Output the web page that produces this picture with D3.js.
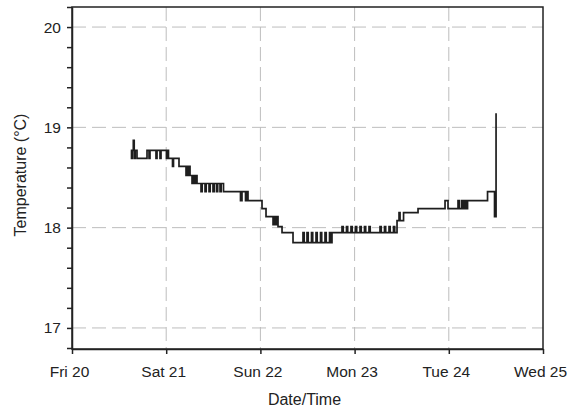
<!DOCTYPE html>
<html lang="en">
<head>
    <meta charset="UTF-8">
    <title>Temperature</title>
    <script src="https://cdnjs.cloudflare.com/ajax/libs/d3/7.8.5/d3.min.js"></script>
    <style>
        body { margin: 0; background: #fff; }
        svg text { font-family: "Liberation Sans", Arial, sans-serif; fill: #222; }
        .axis path, .axis line { stroke: #222; stroke-width: 1.5; }
        .grid line { stroke: #bdbdbd; stroke-width: 1; stroke-dasharray: 14,6; }
    </style>
</head>
<body>
<div id="chart"></div>
<script>
    // Readings: hours since Fri 20 00:00 and temperature (°C)
    const hours = [
        14.96, 15.16, 15.36, 15.62, 15.85, 16.10, 16.56, 19.11, 19.62, 19.87,
        21.40, 21.66, 22.42, 22.68, 24.07, 24.33, 24.58, 25.61, 25.86, 27.26,
        29.05, 29.30, 29.56, 29.81, 30.07, 30.58, 30.96, 31.34, 31.60, 31.85,
        32.87, 33.17, 33.89, 34.19, 34.91, 35.21, 35.92, 36.23, 36.82, 37.12,
        37.71, 38.01, 38.60, 42.93, 43.31, 44.21, 44.46, 44.84,
        48.41, 49.43, 51.22, 51.47, 51.85, 52.11, 52.49, 53.51, 56.31,
        58.85, 59.16, 59.87, 60.18, 61.02, 61.33, 62.17, 62.47, 63.32, 63.62,
        64.46, 64.77, 65.61, 65.92, 66.24,
        68.79, 69.10, 69.94, 70.24, 71.08, 71.39, 72.23, 72.53, 73.38, 73.68,
        74.52, 74.83, 75.67, 75.98,
        78.47, 78.78, 79.62, 79.92, 80.77, 81.07, 81.91, 82.22,
        82.81, 83.32, 83.58, 84.47, 88.16, 95.04, 95.80,
        98.35, 98.66, 99.25, 99.50, 99.76, 100.14, 100.34, 100.60, 100.78,
        105.87, 107.65, 108.04
    ];
    const temps = [
        18.77, 18.69, 18.77, 18.87, 18.69, 18.77, 18.69, 18.77, 18.69, 18.77,
        18.69, 18.77, 18.69, 18.77, 18.69, 18.77, 18.69, 18.61, 18.69, 18.61,
        18.52, 18.61, 18.52, 18.61, 18.52, 18.44, 18.52, 18.44, 18.52, 18.44,
        18.36, 18.44, 18.36, 18.44, 18.36, 18.44, 18.36, 18.44, 18.36, 18.44,
        18.36, 18.44, 18.36, 18.27, 18.36, 18.27, 18.36, 18.27,
        18.19, 18.11, 18.03, 18.11, 18.03, 18.11, 18.01, 17.95, 17.85,
        17.95, 17.85, 17.95, 17.85, 17.95, 17.85, 17.95, 17.85, 17.95, 17.85,
        17.95, 17.85, 17.95, 17.85, 17.95,
        18.01, 17.95, 18.01, 17.95, 18.01, 17.95, 18.01, 17.95, 18.01, 17.95,
        18.01, 17.95, 18.01, 17.95,
        18.01, 17.95, 18.01, 17.95, 18.01, 17.95, 18.01, 17.95,
        18.07, 18.15, 18.07, 18.15, 18.19, 18.27, 18.19,
        18.27, 18.19, 18.27, 18.19, 18.27, 18.19, 18.27, 18.19, 18.27,
        18.36, 18.11, 19.14
    ];

    const dayTicks = ["Fri 20", "Sat 21", "Sun 22", "Mon 23", "Tue 24", "Wed 25"];
    const yLabels = [17, 18, 19, 20];
    const yMinor = [16.8, 17, 17.2, 17.4, 17.6, 17.8, 18, 18.2, 18.4, 18.6, 18.8, 19, 19.2, 19.4, 19.6, 19.8, 20, 20.2];

    const start = new Date(2012, 0, 20);
    const data = hours.map((h, i) => ({ date: new Date(start.getTime() + h * 3600e3), temp: temps[i] }));

    const margin = { top: 7, right: 25, bottom: 63, left: 72 };
    const width = 568 - margin.left - margin.right;
    const height = 412 - margin.top - margin.bottom;

    const svg = d3.select("#chart").append("svg")
        .attr("width", 568)
        .attr("height", 412)
        .append("g")
        .attr("transform", "translate(" + margin.left + "," + margin.top + ")");

    const xScale = d3.scaleTime()
        .domain([start, d3.timeDay.offset(start, 5)])
        .range([0, width]);
    const dayDates = dayTicks.map((t, i) => d3.timeDay.offset(start, i));

    const yScale = d3.scaleLinear()
        .domain([16.79, 20.2])
        .range([height, 0]);

    // grid
    svg.append("g").attr("class", "grid")
        .selectAll("line").data(dayDates.slice(1, -1)).enter().append("line")
        .attr("x1", d => xScale(d)).attr("x2", d => xScale(d))
        .attr("y1", 0).attr("y2", height);
    svg.append("g").attr("class", "grid")
        .selectAll("line").data(yLabels).enter().append("line")
        .attr("x1", 0).attr("x2", width)
        .attr("y1", d => yScale(d)).attr("y2", d => yScale(d));

    // frame
    svg.append("rect")
        .attr("width", width).attr("height", height)
        .attr("fill", "none").attr("stroke", "#222").attr("stroke-width", 1.5);

    // axes
    svg.append("g").attr("class", "axis")
        .attr("transform", "translate(0," + height + ")")
        .call(d3.axisBottom(xScale).tickValues(dayDates)
            .tickFormat((d, i) => dayTicks[i]).tickSize(5).tickPadding(12).tickSizeOuter(0))
        .selectAll("text")
        .attr("dx", -3)
        .style("font-size", "15.5px");

    svg.append("g").attr("class", "axis")
        .call(d3.axisLeft(yScale).tickValues(yMinor)
            .tickFormat(d => yLabels.includes(Math.round(d * 10) / 10) ? d3.format("d")(d) : "")
            .tickSize(5).tickPadding(6).tickSizeOuter(0))
        .selectAll("text").style("font-size", "15.5px");

    // line
    const line = d3.line()
        .x(d => xScale(d.date))
        .y(d => yScale(d.temp))
        .curve(d3.curveStepAfter);

    svg.append("path")
        .datum(data)
        .attr("fill", "none")
        .attr("stroke", "#1e1e1e")
        .attr("stroke-width", 1.7)
        .attr("d", line);

    // labels
    svg.append("text")
        .attr("x", width / 2 - 3)
        .attr("y", height + 56)
        .style("text-anchor", "middle")
        .style("font-size", "16px")
        .text("Date/Time");

    svg.append("text")
        .attr("transform", "rotate(-90)")
        .attr("x", -height / 2 + 3)
        .attr("y", -margin.left + 26)
        .style("text-anchor", "middle")
        .style("font-size", "16px")
        .text("Temperature (°C)");
</script>
</body>
</html>
